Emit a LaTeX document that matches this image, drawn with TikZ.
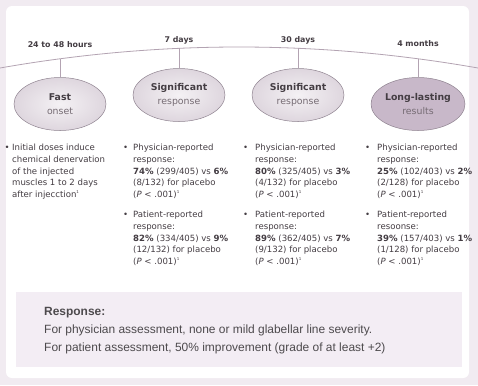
\documentclass[tikz,border=0pt]{standalone}
\usepackage{fontspec}
\setmainfont{DejaVu Sans}
\newfontfamily\notefont{Liberation Sans}
\usetikzlibrary{shapes.geometric,positioning}

\definecolor{framebg}{HTML}{F1EBF1}
\definecolor{arcline}{HTML}{B3A3B2}
\definecolor{ovalfill}{HTML}{F4F1F4}
\definecolor{ovalshade}{HTML}{DED6DE}
\definecolor{ovaldark}{HTML}{C8B8C9}
\definecolor{ovalline}{HTML}{8F8390}
\definecolor{txt}{HTML}{443D43}
\definecolor{subtxt}{HTML}{766C74}
\definecolor{notebg}{HTML}{F3EDF4}
\definecolor{notetxt}{HTML}{4D4A4D}

\newcommand{\bul}[1][6bp]{\llap{\textbullet\hspace{#1}}}
\newcommand{\refn}{\textsuperscript{\fontsize{4}{4}\selectfont 1}}

\begin{document}
\begin{tikzpicture}[x=1bp, y=-1bp,
    stage/.style={ellipse, draw=ovalline, line width=0.5bp,
        inner color=ovalfill, outer color=ovalshade,
        minimum width=92bp, minimum height=53bp, inner sep=0pt, align=center,
        text=txt, font=\fontsize{9.4}{13.5}\selectfont},
    when/.style={anchor=base, text=txt, inner sep=0pt,
        font=\fontsize{7.9}{10}\selectfont\bfseries},
    item/.style={anchor=north west, inner sep=0pt, align=left, text=txt,
        font=\fontsize{8.6}{11.7}\selectfont},
    stem/.style={arcline, line width=0.8bp}]
    \useasboundingbox (0,0) rectangle (478,385);

    % Frame
    \fill[framebg] (0,0) rectangle (478,385);
    \fill[white, rounded corners=6bp] (6,6) rectangle (469,378);

    % Time line
    \draw[stem] (0,68) .. controls (159.3,40) and (318.7,40) .. (478,68);
    \coordinate (t1) at (60,58.8);
    \coordinate (t2) at (179,48.3);
    \coordinate (t3) at (298,48.3);
    \coordinate (t4) at (418,58.8);

    % Time labels
    \node[when] (w1) at (60,47) {24 to 48 hours};
    \node[when] (w2) at (179,42) {7 days};
    \node[when] (w3) at (298,42) {30 days};
    \node[when] (w4) at (418,46) {4 months};

    % Stages
    \node[stage] (fast) at (60,104) {\textbf{Fast}\\{\color{subtxt}onset}};
    \node[stage] (sig1) at (179,95) {\textbf{Significant}\\{\color{subtxt}response}};
    \node[stage] (sig2) at (298,95) {\textbf{Significant}\\{\color{subtxt}response}};
    \node[stage, inner color=ovaldark, outer color=ovaldark, minimum width=94bp] (long)
        at (418,104) {\textbf{Long-lasting}\\{\color{subtxt}results}};

    % Stems
    \draw[stem] (t1) -- (fast.north);
    \draw[stem] (t2) -- (sig1.north);
    \draw[stem] (t3) -- (sig2.north);
    \draw[stem] (t4) -- (long.north);

    % Findings
    \node[item] (c1a) at (12,144) {\bul[2.5bp]Initial doses induce\\
        chemical denervation\\of the injected\\muscles 1 to 2 days\\after injecction\refn};

    \node[item] (c2a) at (133,144) {\bul[5bp]Physician-reported\\response:\\
        \textbf{74\%} (299/405) vs \textbf{6\%}\\(8/132) for placebo\\(\textit{P} < .001)\refn};
    \node[item] (c2b) at (133,211) {\bul[5bp]Patient-reported\\response:\\
        \textbf{82\%} (334/405) vs \textbf{9\%}\\(12/132) for placebo\\(\textit{P} < .001)\refn};

    \node[item] (c3a) at (255,144) {\bul[7bp]Physician-reported\\response:\\
        \textbf{80\%} (325/405) vs \textbf{3\%}\\(4/132) for placebo\\(\textit{P} < .001)\refn};
    \node[item] (c3b) at (255,211) {\bul[7bp]Patient-reported\\response:\\
        \textbf{89\%} (362/405) vs \textbf{7\%}\\(9/132) for placebo\\(\textit{P} < .001)\refn};

    \node[item] (c4a) at (377,144) {\bul[7bp]Physician-reported\\response:\\
        \textbf{25\%} (102/403) vs \textbf{2\%}\\(2/128) for placebo\\(\textit{P} < .001)\refn};
    \node[item] (c4b) at (377,211) {\bul[7bp]Patient-reported\\resoonse:\\
        \textbf{39\%} (157/403) vs \textbf{1\%}\\(1/128) for placebo\\(\textit{P} < .001)\refn};

    % Response note
    \fill[notebg] (16,292) rectangle (462,367);
    \node[anchor=north west, inner sep=0pt, align=left, text=notetxt,
        font=\notefont\fontsize{12}{18}\selectfont] (note) at (44,307.5)
        {\textbf{Response:}\\
         For physician assessment, none or mild glabellar line severity.\\
         For patient assessment, 50\% improvement (grade of at least +2)};
\end{tikzpicture}
\end{document}
